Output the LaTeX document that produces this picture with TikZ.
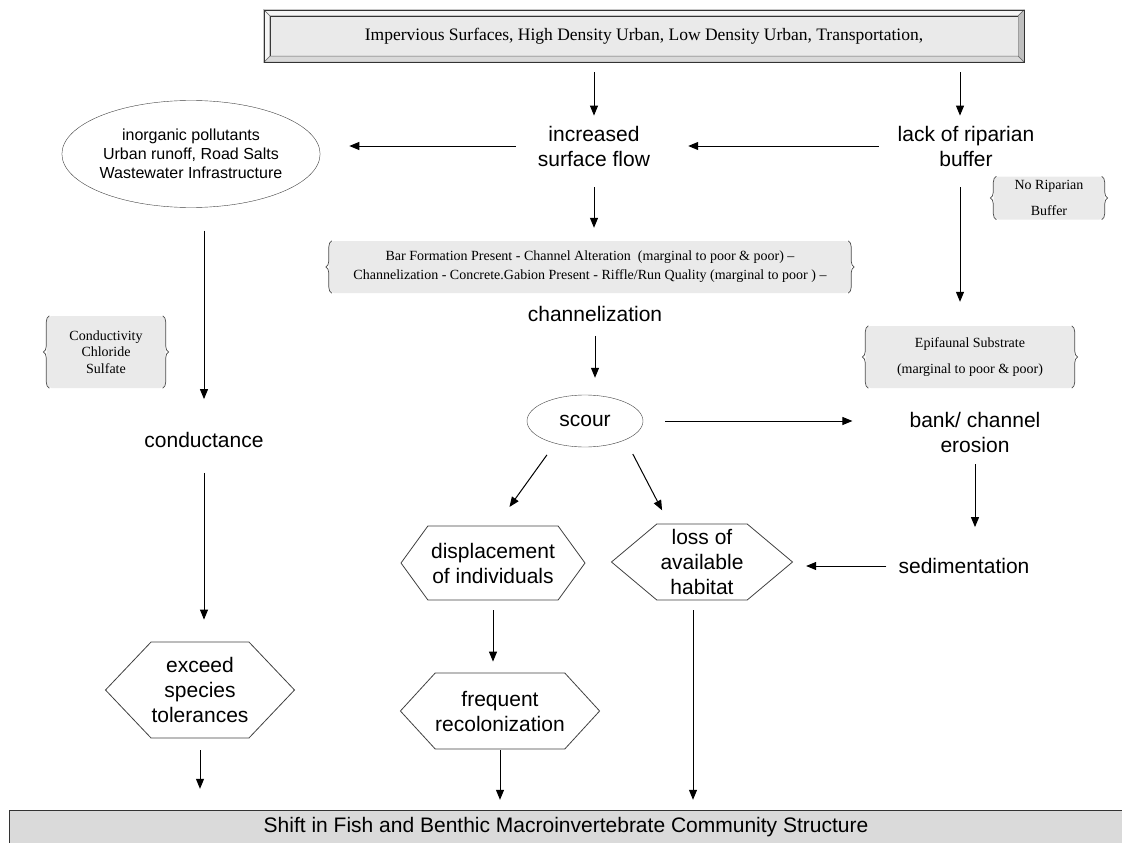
\documentclass[tikz,border=0pt]{standalone}
\usepackage{fontspec}
\setmainfont{Liberation Serif}
\setsansfont{Liberation Sans}
\usetikzlibrary{arrows.meta,shapes.geometric,shapes.symbols,decorations.pathreplacing}
\definecolor{boxgray}{RGB}{234,234,234}
\definecolor{bargray}{RGB}{218,218,218}

\begin{document}
\begin{tikzpicture}[x=1pt,y=-1pt,
  lbl/.style={font=\sffamily\fontsize{21}{25}\selectfont,align=center,inner sep=2pt},
  hexa/.style={lbl,draw=black!75,line width=0.8pt,signal,signal to=west and east,
               signal pointer angle=#1,inner sep=0pt},
  brbox/.style={fill=boxgray,rounded corners=5pt,align=center,inner sep=2pt},
  curly/.style={draw=black!70,line width=0.7pt,decorate,decoration={brace,amplitude=6pt}},
  arr/.style={line width=1pt,-{Triangle[length=10pt,width=8pt]}}]

\useasboundingbox (0,0) rectangle (1122,843);

% top source box (bevelled)
\node[fill=boxgray,draw=black!80,minimum width=748,minimum height=40,inner sep=0pt,
      font=\fontsize{17.5}{20}\selectfont] (top) at (644,36)
  {Impervious Surfaces, High Density Urban, Low Density Urban, Transportation,};
\coordinate (o1) at ([shift={(-6,-6)}]top.north west);
\coordinate (o2) at ([shift={(6,-6)}]top.north east);
\coordinate (o3) at ([shift={(6,6)}]top.south east);
\coordinate (o4) at ([shift={(-6,6)}]top.south west);
\draw[black!60,fill=gray!8]  (o1) -- (o2) -- (top.north east) -- (top.north west) -- cycle;
\draw[black!60,fill=gray!50] (o2) -- (o3) -- (top.south east) -- (top.north east) -- cycle;
\draw[black!60,fill=gray!30] (o3) -- (o4) -- (top.south west) -- (top.south east) -- cycle;
\draw[black!60,fill=gray!8]  (o4) -- (o1) -- (top.north west) -- (top.south west) -- cycle;
\draw[black!80] (o1) rectangle (o3);

% bottom bar
\node[fill=bargray,minimum width=1112,minimum height=32,inner sep=0pt,
      font=\sffamily\fontsize{21}{24}\selectfont] (bar) at (566,827)
  {Shift in Fish and Benthic Macroinvertebrate Community Structure};
\draw[black!80,line width=1pt] (bar.south west) |- (bar.north east);

% labels
\node[lbl] (inc)  at (594,146) {increased\\surface flow};
\node[lbl] (lack) at (966,146) {lack of riparian\\buffer};
\node[draw=black!75,ellipse,minimum width=222,minimum height=107,inner sep=0pt,align=center,
      font=\sffamily\fontsize{16}{19}\selectfont] (poll) at (191,154)
  {inorganic pollutants\\Urban runoff, Road Salts\\Wastewater Infrastructure};
\node[lbl] (cond) at (204,440) {conductance};
\node[lbl] (chan) at (595,314) {channelization};
\node[lbl,draw=black!75,ellipse,minimum width=116,minimum height=52,inner sep=0pt] (scour) at (585,421) {scour};
\node[lbl] (bank) at (975,432) {bank/ channel\\erosion};
\node[lbl] (sed)  at (964,566) {sedimentation};

% hexagons
\node[hexa=93,minimum width=189,minimum height=96]  (exc)  at (200,690) {exceed\\species\\tolerances};
\node[hexa=108,minimum width=184,minimum height=74] (disp) at (493,563) {displacement\\of individuals};
\node[hexa=80,minimum width=181,minimum height=76]  (loss) at (702,562) {loss of\\available\\habitat};
\node[hexa=95,minimum width=199,minimum height=76]  (freq) at (500,711) {frequent\\recolonization};

% bracketed indicator boxes
\node[brbox,minimum width=119,minimum height=72,font=\fontsize{14}{16.5}\selectfont] (condbox) at (106,352)
  {Conductivity\\Chloride\\Sulfate};
\node[brbox,minimum width=522,minimum height=52,font=\fontsize{14}{19}\selectfont] (chanbox) at (590,267)
  {Bar Formation Present - Channel Alteration\ \ (marginal to poor \& poor) --\\
   Channelization - Concrete.Gabion Present - Riffle/Run Quality (marginal to poor ) --};
\node[brbox,minimum width=111,minimum height=43,font=\fontsize{14}{26}\selectfont] (noripbox) at (1049,198)
  {No Riparian\\Buffer};
\node[brbox,minimum width=209,minimum height=62,font=\fontsize{14}{26}\selectfont] (epibox) at (970,357)
  {Epifaunal Substrate\\(marginal to poor \& poor)};
\foreach \b in {condbox,chanbox,noripbox,epibox}{ % braces on both sides
  \draw[curly] ([xshift=3pt]\b.south west) -- ([xshift=3pt]\b.north west);
  \draw[curly] ([xshift=-3pt]\b.north east) -- ([xshift=-3pt]\b.south east);
}

% connectors
\draw[arr,shorten <=16pt,shorten >=8pt] (top.south -| inc) -- (inc.north);
\draw[arr,shorten <=16pt,shorten >=8pt] ([xshift=-6pt]top.south -| lack.north) -- ([xshift=-6pt]lack.north);
\draw[arr,shorten <=17pt,shorten >=36pt] (lack.west) -- (lack.west -| inc.east);
\draw[arr,shorten <=20pt,shorten >=29pt] (inc.west) -- (inc.west -| poll.east);
\draw[arr,shorten <=23pt,shorten >=31pt] (cond |- poll.south) -- (cond.north);
\draw[arr,shorten <=23pt,shorten >=22pt] (cond.south) -- (cond.south |- exc.north);
\draw[arr,shorten <=12pt,shorten >=22pt] (exc.south) -- (exc.south |- bar.north);
\draw[arr,shorten <=19pt,shorten >=13pt] (inc.south) -- (inc.south |- chanbox.north);
\draw[arr,shorten <=12pt,shorten >=17pt] (chan.south) -- (chan.south |- scour.north);
\draw[arr,shorten <=22pt,shorten >=55pt] (scour.east) -- (scour.east -| bank.west);
\draw[arr,shorten <=19pt,shorten >=24pt] ([xshift=-6pt]lack.south) -- ([xshift=-6pt]lack.south |- epibox.north);
\draw[arr,shorten <=10pt,shorten >=29pt] (bank.south) -- (bank.south |- sed.north);
\draw[arr,shorten <=10pt,shorten >=13pt] (sed.west) -- (sed.west -| loss.east);
\draw[arr,shorten <=14pt,shorten >=23pt] (scour.-143) -- ([xshift=3pt]disp.north);
\draw[arr,shorten <=16pt,shorten >=15pt] (scour.-25) -- ([xshift=-33pt]loss.north);
\draw[arr,shorten <=10pt,shorten >=11pt] (disp.south) -- (disp.south |- freq.north);
\draw[arr,shorten <=1pt,shorten >=11pt] (freq.south) -- (freq.south |- bar.north);
\draw[arr,shorten <=10pt,shorten >=11pt] ([xshift=-9pt]loss.south) -- ([xshift=-9pt]loss.south |- bar.north);
\end{tikzpicture}
\end{document}
